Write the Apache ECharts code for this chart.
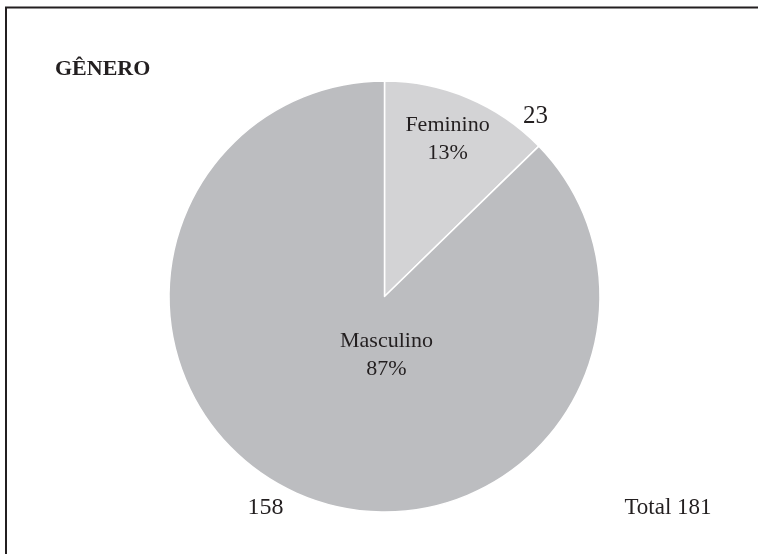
<!DOCTYPE html>
<html>
<head>
<meta charset="utf-8">
<title>Gênero</title>
<script src="https://cdn.jsdelivr.net/npm/echarts@6/dist/echarts.min.js"></script>
<style>
  html, body { margin: 0; padding: 0; background: #fff; }
  #myChart { width: 758px; height: 554px; }
</style>
</head>
<body>
<div id="myChart"></div>
<script>
let categories = ["Feminino", "Masculino"];
let values = [23, 158];
let sliceColors = ["#d3d3d5", "#bcbdc0"];
let titleText = "GÊNERO";
let totalLabel = "Total";

let fontName = "Liberation Serif";
let textColor = "#231f20";

// nudge the inside labels away from the default mid-radius spot
let labelShift = [
  { dx: 20, dy: -55 },
  { dx: 45, dy: -43 }
];

let pieData = categories.map((name, i) => ({
  name: name,
  value: values[i],
  itemStyle: { color: sliceColors[i] }
}));
let total = values.reduce((a, b) => a + b, 0);

let myChart = echarts.init(document.getElementById("myChart"));
myChart.setOption({
  animation: false,
  title: {
    text: titleText,
    left: 55,
    top: 58,
    padding: 0,
    textStyle: {
      fontFamily: fontName,
      fontSize: 22,
      fontWeight: "bold",
      color: textColor
    }
  },
  series: [
    {
      type: "pie",
      center: [384.5, 296.5],
      radius: [0, 215.5],
      startAngle: 90,
      clockwise: true,
      silent: true,
      itemStyle: { borderColor: "#fff", borderWidth: 1.5 },
      label: {
        position: "inside",
        formatter: p => p.name + "\n" + Math.round(p.percent) + "%",
        fontFamily: fontName,
        fontSize: 22,
        lineHeight: 28,
        color: textColor
      },
      labelLayout: p => labelShift[p.dataIndex],
      data: pieData
    }
  ],
  graphic: [
    {
      type: "polyline",
      shape: { points: [[6, 560], [6, 7.5], [760, 7.5]] },
      style: { stroke: textColor, lineWidth: 2, fill: null }
    },
    {
      type: "text",
      x: 535.5,
      y: 116,
      style: {
        text: String(values[0]),
        font: "25px " + fontName,
        fill: textColor,
        textAlign: "center",
        textVerticalAlign: "middle"
      }
    },
    {
      type: "text",
      x: 265.5,
      y: 508,
      style: {
        text: String(values[1]),
        font: "24px " + fontName,
        fill: textColor,
        textAlign: "center",
        textVerticalAlign: "middle"
      }
    },
    {
      type: "text",
      x: 668,
      y: 508,
      style: {
        text: totalLabel + " " + total,
        font: "23px " + fontName,
        fill: textColor,
        textAlign: "center",
        textVerticalAlign: "middle"
      }
    }
  ]
});
</script>
</body>
</html>
